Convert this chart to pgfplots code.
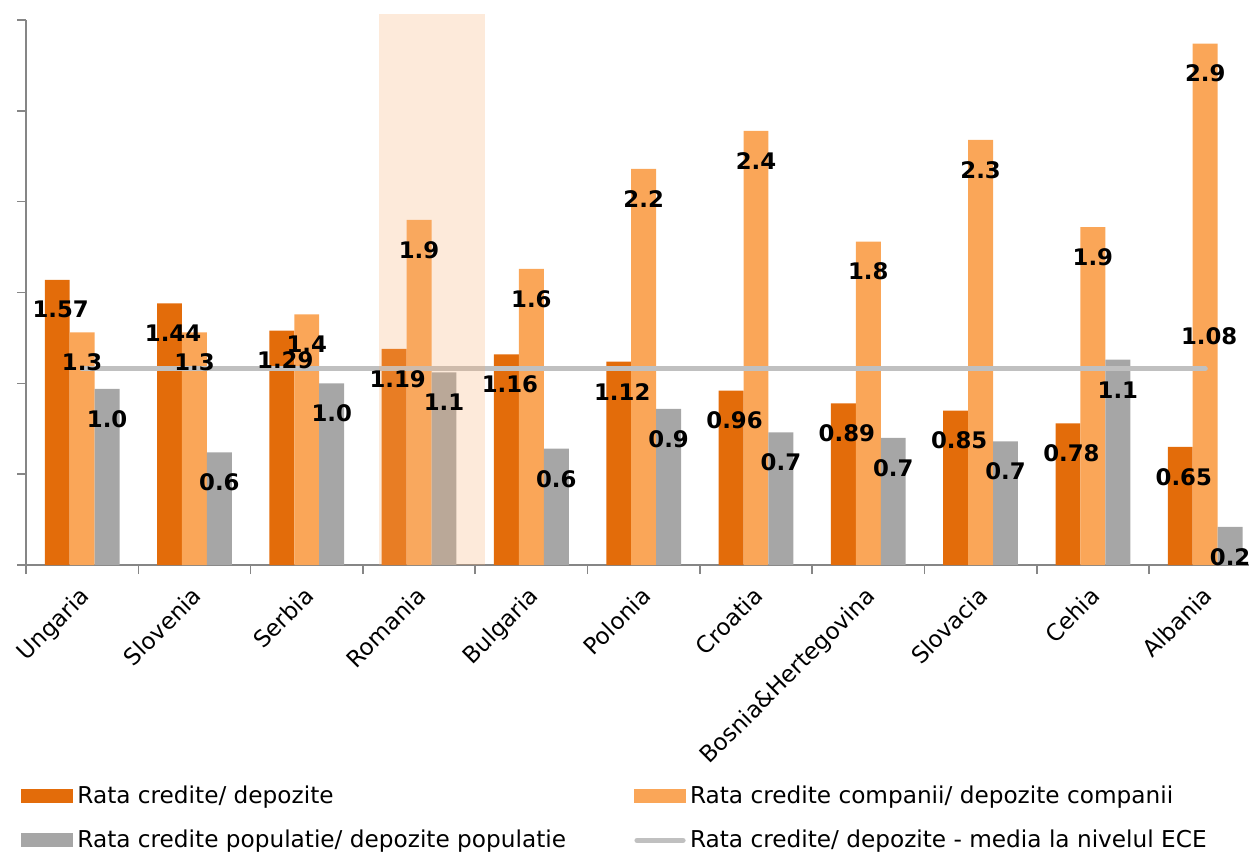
\documentclass[border=0pt]{standalone}
\usepackage{fontspec}
\setmainfont{DejaVu Sans}
\usepackage{pgfplots}
\usepackage{pgfplotstable}
\pgfplotsset{compat=1.18}
\definecolor{darkor}{RGB}{227,108,10}
\definecolor{lightor}{RGB}{250,166,88}
\definecolor{barGray}{RGB}{166,166,166}
\definecolor{lineGray}{RGB}{192,192,192}
\definecolor{axGray}{RGB}{134,134,134}
\definecolor{hl}{RGB}{247,174,112}

\pgfplotstableread{
x dark light gray
0 1.57 1.28 0.97
1 1.44 1.28 0.62
2 1.29 1.38 1.00
3 1.19 1.90 1.06
4 1.16 1.63 0.64
5 1.12 2.18 0.86
6 0.96 2.39 0.73
7 0.89 1.78 0.70
8 0.85 2.34 0.68
9 0.78 1.86 1.13
10 0.65 2.87 0.21
}\datatable

\begin{document}
\begin{tikzpicture}
\path[use as bounding box] (-13pt,-144pt) rectangle (611.5pt,282.5pt);
\begin{axis}[
  scale only axis, width=611.5pt, height=272.5pt,
  xmin=-0.5, xmax=10.39, ymin=0, ymax=3,
  clip=false,
  /pgf/number format/assume math mode=true,
  axis x line*=bottom, axis y line*=left,
  x axis line style={-}, y axis line style={-},
  axis line style={draw=axGray, line width=0.8pt},
  tick align=outside,
  major tick length=4.5pt,
  tick style={draw=axGray, line width=0.8pt},
  ytick={0,0.5,...,3}, yticklabels={},
  xtick={-0.5,0.5,...,9.5}, xticklabels={},
  extra x ticks={0,1,2,3,4,5,6,7,8,9,10},
  extra x tick labels={Ungaria,Slovenia,Serbia,Romania,Bulgaria,Polonia,Croatia,Bosnia\&Hertegovina,Slovacia,Cehia,Albania},
  extra x tick style={major tick length=0pt},
  xticklabel shift=10pt,
  xticklabel style={font=\fontsize{11.5}{13}\selectfont, xshift=-2pt, rotate=45, anchor=north east, inner sep=0pt},
  every node near coord/.append style={anchor=center, yshift=-15pt, text=black, font=\bfseries\fontsize{11.4}{13}\selectfont, inner sep=0pt},
  legend style={at={(rel axis cs:0,0)}, anchor=north west, xshift=-2.5pt, yshift=-108pt,
    draw=none, fill=none, inner sep=0pt, font=\fontsize{11.6}{13.5}\selectfont,
    /tikz/every even column/.append style={column sep=32pt}, row sep=8pt},
  legend columns=2,
  legend cell align=left,
]
\addplot[ybar, bar width=0.222, bar shift=-0.222, fill=darkor, draw=none,
  legend image code/.code={\fill[darkor] (0pt,-3.5pt) rectangle (26pt,3.5pt);}]
  table[x=x, y=dark] {\datatable};
\addlegendentry{Rata credite/ depozite}
\addplot[ybar, bar width=0.222, bar shift=0, fill=lightor, draw=none,
  legend image code/.code={\fill[lightor] (0pt,-3.5pt) rectangle (26pt,3.5pt);}]
  table[x=x, y=light] {\datatable};
\addlegendentry{Rata credite companii/ depozite companii}
\addplot[ybar, bar width=0.222, bar shift=0.222, fill=barGray, draw=none,
  legend image code/.code={\fill[barGray] (0pt,-3.5pt) rectangle (26pt,3.5pt);}]
  table[x=x, y=gray] {\datatable};
\addlegendentry{Rata credite populatie/ depozite populatie}
\addplot[lineGray, line width=2.6pt, line cap=round, mark=none,
  legend image code/.code={\draw[lineGray, line width=2.6pt, line cap=round] (1.5pt,0pt) -- (24.5pt,0pt);}]
  coordinates {(0,1.08) (10,1.08)};
\addlegendentry{Rata credite/ depozite - media la nivelul ECE}
% labels
\addplot[draw=none, mark=none, forget plot, nodes near coords={\pgfmathprintnumber[fixed,fixed zerofill,precision=2]{\pgfplotspointmeta}},
  every node near coord/.append style={xshift=1.75pt}]
  table[x expr=\thisrow{x}-0.222, y=dark] {\datatable};
\addplot[draw=none, mark=none, forget plot, nodes near coords={\pgfmathprintnumber[fixed,fixed zerofill,precision=1]{\pgfplotspointmeta}}]
  table[x=x, y=light] {\datatable};
\addplot[draw=none, mark=none, forget plot, nodes near coords={\pgfmathprintnumber[fixed,fixed zerofill,precision=1]{\pgfplotspointmeta}}]
  table[x expr=\thisrow{x}+0.222, y=gray] {\datatable};
\addplot[draw=none, mark=none, forget plot, nodes near coords={\pgfmathprintnumber[fixed,fixed zerofill,precision=2]{\pgfplotspointmeta}},
  every node near coord/.append style={yshift=31.5pt, xshift=2pt}]
  coordinates {(10,1.08)};
\fill[hl, fill opacity=0.26] (axis cs:2.643,0) rectangle (axis cs:3.587,3.033);
\end{axis}
\end{tikzpicture}
\end{document}
